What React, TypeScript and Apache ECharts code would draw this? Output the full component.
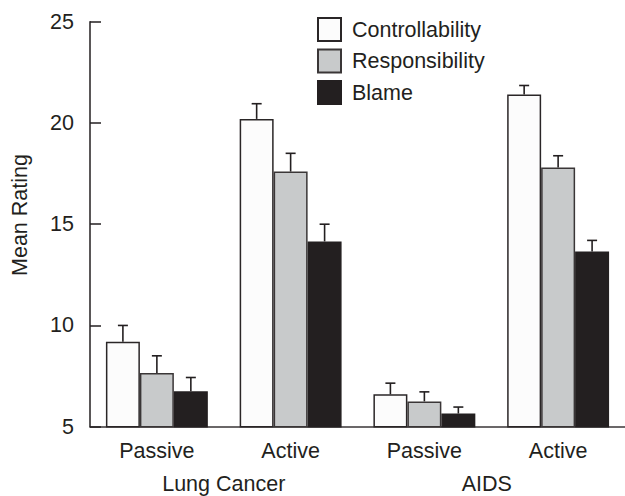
import React, { useEffect, useRef } from "react";
import * as echarts from "echarts";

const categories = ["Passive", "Active", "Passive", "Active"];
const groups = ["Lung Cancer", "AIDS"];
const seriesNames = ["Controllability", "Responsibility", "Blame"];
const controllability = [9.2, 20.2, 6.6, 21.4];
const responsibility = [7.65, 17.6, 6.25, 17.8];
const blame = [6.75, 14.15, 5.65, 13.65];
const controllabilityErr = [10.0, 20.95, 7.15, 21.85];
const responsibilityErr = [8.5, 18.5, 6.72, 18.38];
const blameErr = [7.43, 15.0, 5.97, 14.2];
const yTicks = { min: 5, max: 25, interval: 5 };

const fills = ["#fcfcfc", "#c8cacb", "#231f20"];
const borders = ["#2a2627", "#3a3637", "#231f20"];
const INK = "#231f20";
const CAT_GAP = 0.238;
const FS = 21.5;
const FONT = "Liberation Sans, Arial, sans-serif";

export default function App() {
  const ref = useRef<HTMLDivElement>(null);
  useEffect(() => {
    if (!ref.current) return;
    const chart = echarts.init(ref.current, null, { renderer: "svg" });
    const values = [controllability, responsibility, blame];
    const errs = [controllabilityErr, responsibilityErr, blameErr];

    const barSeries = values.map((vals, s) => ({
      name: seriesNames[s],
      type: "bar",
      data: vals,
      barGap: "0%",
      barCategoryGap: CAT_GAP * 100 + "%",
      itemStyle: { color: fills[s], borderColor: borders[s], borderWidth: 1.5 },
      silent: true,
      z: 2,
    }));

    const errSeries = values.map((vals, s) => ({
      name: seriesNames[s] + " error",
      type: "custom",
      data: vals.map((v, i) => [i, v, errs[s][i]]),
      silent: true,
      z: 3,
      renderItem: (params: any, api: any) => {
        const idx = api.value(0);
        const base = api.coord([idx, api.value(1)]);
        const top = api.coord([idx, api.value(2)]);
        const band = api.size([1, 0])[0];
        const bw = (band * (1 - CAT_GAP)) / 3;
        const x = base[0] + (s - 1) * bw;
        const cap = 5;
        const st = { stroke: INK, lineWidth: 1.6 };
        return {
          type: "group",
          children: [
            { type: "line", shape: { x1: x, y1: base[1], x2: x, y2: top[1] }, style: st },
            { type: "line", shape: { x1: x - cap, y1: top[1], x2: x + cap, y2: top[1] }, style: st },
          ],
        };
      },
    }));

    chart.setOption({
      animation: false,
      textStyle: { fontFamily: FONT, color: INK },
      grid: { left: 90, top: 21.7, width: 538.7, height: 405 },
      legend: {
        data: seriesNames,
        orient: "vertical",
        left: 312,
        top: 12,
        icon: "rect",
        itemWidth: 23,
        itemHeight: 23,
        itemGap: 6.5,
        selectedMode: false,
        textStyle: {
          fontSize: FS,
          color: INK,
          padding: [0, 0, 0, 6],
          fontFamily: FONT,
        },
      },
      xAxis: [
        {
          type: "category",
          data: categories,
          position: "bottom",
          axisLine: { show: true, lineStyle: { color: "#3a3637", width: 1.5 } },
          axisTick: { show: false },
          axisLabel: { fontSize: FS, color: INK, margin: 13 },
        },
        {
          type: "category",
          data: [groups[0], { value: groups[1], textStyle: { padding: [0, 9, 0, 0] } }],
          position: "bottom",
          offset: 33,
          axisLine: { show: false },
          axisTick: { show: false },
          axisLabel: { fontSize: FS, color: INK, margin: 13 },
        },
      ],
      yAxis: {
        type: "value",
        min: yTicks.min,
        max: yTicks.max,
        interval: yTicks.interval,
        axisLine: { show: true, lineStyle: { color: INK, width: 1.5 } },
        axisTick: { show: true, inside: true, length: 11, lineStyle: { color: INK, width: 1.5 } },
        splitLine: { show: false },
        axisLabel: { fontSize: FS, color: INK, margin: 16 },
      },
      graphic: [
        {
          type: "text",
          x: 20,
          y: 215,
          rotation: Math.PI / 2,
          style: {
            text: "Mean Rating",
            fontSize: FS,
            fill: INK,
            fontFamily: FONT,
            align: "center",
            verticalAlign: "middle",
          },
        },
      ],
      series: [...barSeries, ...errSeries],
    });
    return () => chart.dispose();
  }, []);
  return (
    <div
      ref={ref}
      style={{ position: "absolute", left: 0, top: 0, width: 625, height: 496, background: "#fff" }}
    />
  );
}
